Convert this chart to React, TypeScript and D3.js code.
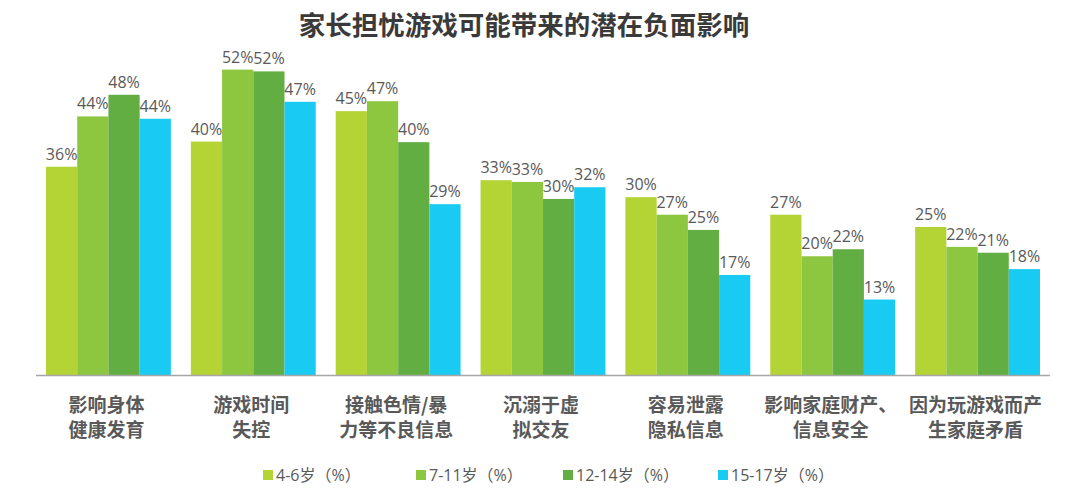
import React from "react";
import * as d3 from "d3";

const title = "家长担忧游戏可能带来的潜在负面影响";
const categories = [
  ["影响身体", "健康发育"],
  ["游戏时间", "失控"],
  ["接触色情/暴", "力等不良信息"],
  ["沉溺于虚", "拟交友"],
  ["容易泄露", "隐私信息"],
  ["影响家庭财产、", "信息安全"],
  ["因为玩游戏而产", "生家庭矛盾"],
];
const seriesNames = ["4-6岁（%）", "7-11岁（%）", "12-14岁（%）", "15-17岁（%）"];
const age4to6 = [35.6, 39.9, 45.1, 33.3, 30.4, 27.4, 25.3];
const age7to11 = [44.2, 52.2, 46.8, 33.0, 27.4, 20.3, 21.9];
const age12to14 = [47.9, 51.9, 39.8, 30.1, 24.8, 21.5, 20.9];
const age15to17 = [43.8, 46.7, 29.2, 32.1, 17.1, 12.9, 18.1];
const colors = ["#B4D334", "#8DC63F", "#63AE43", "#19CAF3"];

const W = 1080;
const H = 495;

export default function App() {
  const series = [age4to6, age7to11, age12to14, age15to17];
  const x0 = d3
    .scaleBand<number>()
    .domain(d3.range(categories.length))
    .range([36, 1050])
    .paddingInner(0.138)
    .paddingOuter(0.069);
  const x1 = d3
    .scaleBand<number>()
    .domain(d3.range(series.length))
    .range([0, x0.bandwidth()]);
  const y = d3.scaleLinear().domain([0, 60]).range([375, 375 - 60 * 5.85]);

  const labelFont = "'Open Sans', 'Noto Sans', sans-serif";
  const cjkFont = "'Noto Sans CJK SC', 'Noto Sans', sans-serif";
  const legendFont = "'Open Sans', 'Noto Sans CJK SC', sans-serif";

  const legendX = [263, 416, 563, 718];

  return (
    <svg width={W} height={H} style={{ position: "absolute", left: 0, top: 0, background: "#fff" }}>
      <text x={524} y={35} textAnchor="middle" fontFamily={cjkFont} fontWeight={700} fontSize={26.5} fill="#3A3A3A">
        {title}
      </text>
      {series.map((vals, si) =>
        vals.map((v, ci) => {
          const bx = (x0(ci) ?? 0) + (x1(si) ?? 0);
          const bw = x1.bandwidth();
          return (
            <g key={`${si}-${ci}`}>
              <rect x={bx} y={y(v)} width={bw} height={y(0) - y(v)} fill={colors[si]} />
              <text x={bx + bw / 2} y={y(v) - 7} textAnchor="middle" fontFamily={labelFont} fontSize={16} fill="#595959">
                {`${Math.round(v)}%`}
              </text>
            </g>
          );
        })
      )}
      <line x1={36} x2={1050} y1={375.5} y2={375.5} stroke="#A6A6A6" strokeWidth={1.5} />
      {categories.map((lines, ci) => (
        <text key={ci} textAnchor="middle" fontFamily={cjkFont} fontWeight={700} fontSize={19} fill="#595959">
          {lines.map((l, li) => (
            <tspan key={li} x={(x0(ci) ?? 0) + x0.bandwidth() / 2 - 2} y={412 + li * 25}>
              {l}
            </tspan>
          ))}
        </text>
      ))}
      {seriesNames.map((n, i) => (
        <g key={n}>
          <rect x={legendX[i]} y={470} width={10} height={10} fill={colors[i]} />
          <text x={legendX[i] + 13} y={481} fontFamily={legendFont} fontSize={16} fill="#595959">
            {n}
          </text>
        </g>
      ))}
    </svg>
  );
}
